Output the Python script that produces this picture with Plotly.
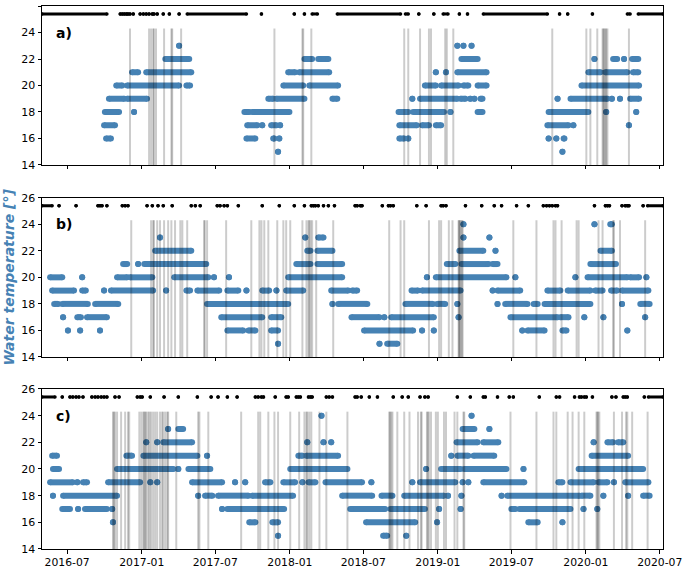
import plotly.graph_objects as go

# ---------------- axis / label values ----------------
Y_MIN, Y_MAX = 14, 26
Y_TICKS = [14, 16, 18, 20, 22, 24, 26]
X_RANGE = ["2016-04-30", "2020-07-09"]
X_TICKS = ["2016-07-01", "2017-01-01", "2017-07-01", "2018-01-01", "2018-07-01",
           "2019-01-01", "2019-07-01", "2020-01-01", "2020-07-01"]
X_TICK_TEXT = ["2016-07", "2017-01", "2017-07", "2018-01", "2018-07",
               "2019-01", "2019-07", "2020-01", "2020-07"]
PANEL_LABELS = ["a)", "b)", "c)"]
Y_TITLE = "Water temperature [°]"
RUG_LEVEL = 25.4
EVENT_TOP = 24.3

# ---------------- panel a ----------------
# (temperature, first day, last day) ; single day -> (temperature, day)
A_RUNS = [
    (15, "2017-12-03"), (15, "2019-11-04"),
    (16, "2016-10-05", "2016-10-17"), (16, "2017-09-16", "2017-10-08"), (16, "2017-11-21", "2017-11-24"),
    (16, "2017-12-06"), (16, "2018-09-28", "2018-10-10"), (16, "2018-10-20"), (16, "2019-10-01"),
    (16, "2019-10-20"), (16, "2019-11-07", "2019-11-09"),
    (17, "2016-09-30", "2016-10-27"), (17, "2017-09-18", "2017-10-13"), (17, "2017-10-25"),
    (17, "2017-11-16", "2017-11-29"), (17, "2017-12-08"), (17, "2018-09-28", "2018-11-10"),
    (17, "2018-11-23", "2018-12-10"), (17, "2018-12-27", "2019-01-09"), (17, "2019-09-28", "2019-11-19"),
    (17, "2019-12-01"), (17, "2020-04-16"),
    (18, "2016-10-02", "2016-11-06"), (18, "2016-12-13"), (18, "2017-09-11", "2017-09-23"),
    (18, "2017-09-30", "2017-12-31"), (18, "2018-09-26", "2018-10-20"), (18, "2018-11-01", "2019-01-16"),
    (18, "2019-02-01"), (18, "2019-04-09", "2019-04-21"), (18, "2019-10-01", "2020-01-07"),
    (18, "2020-02-20"), (18, "2020-05-04"),
    (19, "2016-10-12", "2016-11-19"), (19, "2016-11-26", "2017-01-14"), (19, "2017-11-09", "2017-11-21"),
    (19, "2017-11-29", "2018-02-06"), (19, "2018-04-16", "2018-04-28"), (19, "2018-10-30"),
    (19, "2018-11-18", "2019-02-18"), (19, "2019-02-26", "2019-03-10"), (19, "2019-03-22"),
    (19, "2019-04-01"), (19, "2019-04-16", "2019-04-21"), (19, "2019-10-23"),
    (19, "2019-11-24", "2020-02-23"), (19, "2020-03-05"), (19, "2020-03-25"), (19, "2020-04-19", "2020-05-11"),
    (20, "2016-10-30", "2016-11-14"), (20, "2016-11-26", "2017-04-03"), (20, "2017-04-21", "2017-04-30"),
    (20, "2017-12-16", "2018-02-03"), (20, "2018-02-18", "2018-04-30"), (20, "2018-11-30", "2018-12-27"),
    (20, "2019-01-09", "2019-02-21"), (20, "2019-03-05", "2019-03-17"), (20, "2019-04-09", "2019-05-01"),
    (20, "2019-12-21", "2020-05-11"),
    (21, "2016-12-08", "2016-12-23"), (21, "2017-01-12", "2017-05-03"), (21, "2017-12-28", "2018-01-14"),
    (21, "2018-01-24", "2018-04-08"), (21, "2018-12-27"), (21, "2019-01-21"), (21, "2019-02-18", "2019-05-01"),
    (21, "2020-01-07", "2020-02-06"), (21, "2020-02-18", "2020-04-12"), (21, "2020-04-26", "2020-05-09"),
    (22, "2017-02-28", "2017-04-28"), (22, "2018-02-06", "2018-02-25"), (22, "2018-03-12", "2018-04-06"),
    (22, "2019-02-28", "2019-04-09"), (22, "2020-01-22"), (22, "2020-03-08", "2020-03-18"),
    (22, "2020-04-04"), (22, "2020-04-24", "2020-05-09"),
    (23, "2017-04-03"), (23, "2019-02-18"), (23, "2019-03-05"), (23, "2019-03-25"),
]
A_EVENTS = ["2016-12-03", "2017-01-19", "2017-01-24", "2017-01-29", "2017-01-31", "2017-02-05",
            "2017-02-25", "2017-03-15", "2017-03-17", "2017-04-08", "2017-11-24", "2018-02-01",
            "2018-02-03", "2018-02-23", "2018-10-10", "2018-10-20", "2018-11-18", "2018-12-10",
            "2018-12-15", "2019-01-19", "2019-01-23", "2019-02-08", "2019-10-10", "2020-01-02",
            "2020-01-12", "2020-01-29", "2020-02-11", "2020-02-13", "2020-02-15", "2020-02-18",
            "2020-02-20", "2020-02-23", "2020-04-16"]
A_RUG = [("2016-04-30", "2016-10-07"), ("2016-11-09",), ("2016-11-14",), ("2016-11-19",), ("2016-11-24",),
         ("2016-11-28",), ("2016-12-03",), ("2016-12-11",), ("2016-12-28",), ("2017-01-05",),
         ("2017-01-12",), ("2017-01-19",), ("2017-01-27",), ("2017-01-31",), ("2017-02-08",),
         ("2017-02-23",), ("2017-03-10",), ("2017-04-03",), ("2017-04-23", "2017-09-16"),
         ("2017-10-23",), ("2018-01-12",), ("2018-02-06",), ("2018-02-25", "2018-03-10"),
         ("2018-04-28", "2018-10-01"), ("2018-10-13", "2018-10-20"), ("2018-11-15",), ("2018-12-22",),
         ("2019-01-14", "2019-01-26"), ("2019-02-23",), ("2019-03-15",), ("2019-04-23", "2019-09-28"),
         ("2019-10-28",), ("2019-11-17",), ("2020-01-17",), ("2020-04-12", "2020-04-19"),
         ("2020-05-09", "2020-07-09")]

# ---------------- panel b ----------------
B_RUNS = [
    (15, "2017-12-03"), (15, "2018-08-10"), (15, "2018-08-29", "2018-09-23"),
    (16, "2016-07-03"), (16, "2016-08-02"), (16, "2016-09-20"), (16, "2017-07-31", "2017-09-08"),
    (16, "2017-09-21", "2017-10-08"), (16, "2017-11-16", "2017-12-03"), (16, "2018-07-03", "2018-11-01"),
    (16, "2018-11-23"), (16, "2018-12-22"), (16, "2019-07-28"), (16, "2019-08-10", "2019-09-21"),
    (16, "2019-11-04", "2019-11-14"), (16, "2020-04-12"),
    (17, "2016-06-21"), (17, "2016-07-26", "2016-08-04"), (17, "2016-08-19", "2016-10-07"),
    (17, "2017-07-16", "2017-10-25"), (17, "2017-11-16", "2017-12-11"), (17, "2018-06-02", "2018-08-10"),
    (17, "2018-08-22"), (17, "2018-09-08", "2018-12-22"), (17, "2019-02-21"), (17, "2019-06-29", "2019-10-23"),
    (17, "2019-10-30", "2019-11-19"), (17, "2019-12-28"), (17, "2020-02-13"), (17, "2020-05-26"),
    (18, "2016-05-30", "2016-06-09"), (18, "2016-06-19", "2016-08-21"), (18, "2016-09-08", "2016-11-04"),
    (18, "2017-06-11", "2017-12-28"), (18, "2018-04-16"), (18, "2018-04-30", "2018-07-11"),
    (18, "2018-10-13", "2018-12-20"), (18, "2018-12-30", "2019-01-19"), (18, "2019-02-18"),
    (18, "2019-05-28"), (18, "2019-06-16", "2019-08-10"), (18, "2019-08-25", "2019-09-04"),
    (18, "2019-09-21", "2020-01-12"), (18, "2020-03-30"), (18, "2020-05-14", "2020-06-06"),
    (19, "2016-05-25", "2016-07-18"), (19, "2016-08-07", "2016-08-16"), (19, "2016-09-30"),
    (19, "2016-10-17", "2017-01-29"), (19, "2017-03-02"), (19, "2017-04-21", "2017-04-30"),
    (19, "2017-05-18", "2017-07-11"), (19, "2017-07-31", "2017-08-27"), (19, "2017-09-16"),
    (19, "2017-10-25", "2017-11-11"), (19, "2017-11-29"), (19, "2017-12-23", "2018-02-03"),
    (19, "2018-04-13", "2018-05-25"), (19, "2018-06-04", "2018-06-16"), (19, "2018-10-28", "2018-11-13"),
    (19, "2018-11-23", "2019-02-26"), (19, "2019-05-16"), (19, "2019-05-28", "2019-07-23"),
    (19, "2019-09-28", "2019-10-30"), (19, "2019-11-17", "2020-01-12"), (19, "2020-01-24", "2020-02-11"),
    (19, "2020-03-03", "2020-03-18"), (19, "2020-03-30", "2020-06-03"),
    (20, "2016-05-20", "2016-06-19"), (20, "2016-08-07"), (20, "2016-11-01", "2016-11-26"),
    (20, "2016-12-03", "2017-01-27"), (20, "2017-03-22", "2017-06-14"), (20, "2017-06-28"),
    (20, "2017-08-04"), (20, "2017-12-28", "2018-05-10"), (20, "2018-12-05"), (20, "2018-12-27", "2019-06-19"),
    (20, "2019-07-11"), (20, "2019-12-06"), (20, "2020-01-05", "2020-04-12"), (20, "2020-04-19", "2020-05-11"),
    (20, "2020-05-29"),
    (21, "2016-11-16", "2016-11-26"), (21, "2016-12-23"), (21, "2017-01-07", "2017-06-09"),
    (21, "2018-01-17", "2018-02-21"), (21, "2018-03-10", "2018-05-10"), (21, "2019-01-23", "2019-02-13"),
    (21, "2019-02-28", "2019-05-06"), (21, "2019-05-16", "2019-05-28"), (21, "2020-01-12", "2020-03-15"),
    (22, "2017-02-03", "2017-05-03"), (22, "2018-02-13", "2018-02-21"), (22, "2018-03-10", "2018-04-16"),
    (22, "2019-02-23", "2019-04-23"), (22, "2019-05-23"), (22, "2020-02-06", "2020-03-05"),
    (23, "2017-02-15"), (23, "2018-02-08"), (23, "2018-03-12", "2018-03-25"), (23, "2019-03-05"),
    (23, "2019-05-08"),
    (24, "2019-03-05"), (24, "2020-01-22"), (24, "2020-03-01", "2020-03-05"),
]
B_EVENTS = ["2016-12-06", "2017-01-24", "2017-01-29", "2017-01-31", "2017-02-08", "2017-02-15",
            "2017-02-25", "2017-03-07", "2017-03-15", "2017-03-24", "2017-04-06", "2017-04-11",
            "2017-04-23", "2017-06-04", "2017-06-05", "2017-06-11", "2017-07-28", "2017-09-28",
            "2017-10-18", "2017-10-23", "2017-10-30", "2017-11-09", "2017-12-01", "2017-12-16",
            "2017-12-23", "2018-01-02", "2018-02-01", "2018-02-11", "2018-02-16", "2018-02-18",
            "2018-02-21", "2018-02-25", "2018-03-07", "2018-04-18", "2018-09-03", "2018-10-01",
            "2018-10-10", "2018-12-10", "2019-01-04", "2019-01-09", "2019-01-28", "2019-02-06",
            "2019-02-21", "2019-02-22", "2019-02-24", "2019-02-26", "2019-03-01", "2019-03-03",
            "2019-07-06", "2019-09-01", "2019-10-13", "2019-10-18", "2019-11-02", "2019-12-09",
            "2019-12-14", "2020-02-01", "2020-02-11", "2020-03-08", "2020-03-10", "2020-03-25",
            "2020-05-26"]
B_RUG = [("2016-04-30", "2016-05-25"), ("2016-06-11",), ("2016-07-23",), ("2016-09-15",), ("2016-09-20",),
         ("2016-09-25",), ("2016-10-07",), ("2016-11-14",), ("2016-11-21",), ("2016-11-28",),
         ("2017-01-14",), ("2017-01-27",), ("2017-02-10",), ("2017-02-23",), ("2017-03-17",),
         ("2017-05-03",), ("2017-05-13",), ("2017-05-25",), ("2017-07-06",), ("2017-07-13",),
         ("2017-07-23",), ("2017-07-31",), ("2017-08-27",), ("2017-10-25",), ("2017-12-06",),
         ("2018-01-12",), ("2018-02-06",), ("2018-02-23",), ("2018-02-28",), ("2018-03-05",),
         ("2018-03-12",), ("2018-03-25",), ("2018-04-06",), ("2018-04-21",), ("2018-06-11",),
         ("2018-06-16",), ("2018-06-24",), ("2018-06-28",), ("2018-08-17",), ("2018-09-01",),
         ("2018-09-06",), ("2018-09-13",), ("2018-11-10",), ("2018-12-03",), ("2019-01-09",),
         ("2019-01-14",), ("2019-01-21",), ("2019-03-10",), ("2019-04-19",), ("2019-05-20",),
         ("2019-06-07",), ("2019-07-14",), ("2019-08-12",), ("2019-09-18",), ("2019-09-26",),
         ("2019-10-03",), ("2019-10-10",), ("2019-10-18",), ("2019-10-23",), ("2020-01-22",),
         ("2020-02-18",), ("2020-02-23",), ("2020-02-28",), ("2020-03-30",), ("2020-04-07",),
         ("2020-04-12",), ("2020-04-16",), ("2020-05-21",), ("2020-06-01", "2020-07-09")]

# ---------------- panel c ----------------
C_RUNS = [
    (15, "2017-12-03"), (15, "2018-08-19", "2018-08-29"), (15, "2018-10-15"),
    (16, "2016-10-22"), (16, "2017-09-23", "2017-10-08"), (16, "2017-11-19", "2017-12-03"),
    (16, "2018-07-08", "2018-11-06"), (16, "2018-12-30"), (16, "2019-08-12", "2019-09-04"), (16, "2019-11-04"),
    (17, "2016-06-19", "2016-07-08"), (17, "2016-07-28"), (17, "2016-08-14", "2016-10-07"), (17, "2016-10-20"),
    (17, "2017-07-18"), (17, "2017-07-31", "2017-12-18"), (17, "2018-05-30", "2018-08-24"),
    (17, "2018-09-06", "2018-11-30"), (17, "2019-01-04"), (17, "2019-02-26"), (17, "2019-07-01", "2019-07-11"),
    (17, "2019-07-21", "2019-11-24"), (17, "2019-12-26"), (17, "2020-01-29"),
    (18, "2016-05-27"), (18, "2016-06-21", "2016-11-01"), (18, "2017-05-20"), (18, "2017-06-06", "2017-06-24"),
    (18, "2017-07-08", "2017-09-21"), (18, "2017-09-30", "2018-01-09"), (18, "2018-05-10", "2018-07-23"),
    (18, "2018-08-15", "2018-09-11"), (18, "2018-10-10", "2019-01-16"), (18, "2019-01-26"), (18, "2019-02-28"),
    (18, "2019-06-07"), (18, "2019-06-21", "2019-12-16"), (18, "2019-12-21", "2020-01-12"), (18, "2020-02-13"),
    (18, "2020-04-14"), (18, "2020-05-21", "2020-06-06"),
    (19, "2016-05-20", "2016-07-15"), (19, "2016-07-26"), (19, "2016-08-09", "2016-08-19"),
    (19, "2016-10-10", "2016-12-28"), (19, "2017-01-22"), (19, "2017-02-08"), (19, "2017-05-05", "2017-07-18"),
    (19, "2017-08-19"), (19, "2017-09-13"), (19, "2017-11-01", "2017-11-14"), (19, "2017-12-16", "2018-01-14"),
    (19, "2018-02-01"), (19, "2018-02-16", "2018-03-05"), (19, "2018-03-30", "2018-06-28"), (19, "2018-07-21"),
    (19, "2018-10-30"), (19, "2018-11-18", "2019-02-13"), (19, "2019-03-03"), (19, "2019-03-17"),
    (19, "2019-04-23", "2019-08-02"), (19, "2019-10-25", "2019-11-04"), (19, "2019-11-24", "2020-01-20"),
    (19, "2020-02-01", "2020-02-23"), (19, "2020-03-10"), (19, "2020-04-07", "2020-06-03"),
    (20, "2016-05-27", "2016-06-11"), (20, "2016-11-01", "2017-03-20"), (20, "2017-04-01"),
    (20, "2017-04-26", "2017-06-19"), (20, "2018-01-02", "2018-05-23"), (20, "2018-12-03"),
    (20, "2019-01-09", "2019-02-26"), (20, "2019-03-07", "2019-06-19"), (20, "2019-07-31"),
    (20, "2019-12-14", "2020-05-21"),
    (21, "2016-05-25", "2016-06-06"), (21, "2016-11-24", "2016-12-08"), (21, "2017-01-05", "2017-05-18"),
    (21, "2017-06-11"), (21, "2018-01-22", "2018-02-01"), (21, "2018-02-11", "2018-04-30"), (21, "2019-02-03"),
    (21, "2019-02-18", "2019-03-17"), (21, "2019-03-30", "2019-05-20"), (21, "2020-01-15", "2020-04-14"),
    (22, "2017-01-12"), (22, "2017-02-08"), (22, "2017-02-23", "2017-05-05"), (22, "2018-02-13"),
    (22, "2018-03-25"), (22, "2018-04-13"), (22, "2019-02-16", "2019-04-09"), (22, "2019-04-23", "2019-05-30"),
    (22, "2020-01-20"), (22, "2020-02-23", "2020-03-08"), (22, "2020-03-20", "2020-04-02"),
    (23, "2017-03-07"), (23, "2017-04-01", "2017-04-13"), (23, "2019-03-03", "2019-04-01"), (23, "2019-05-08"),
    (24, "2018-03-20"), (24, "2019-03-25"),
]
C_EVENTS = ["2016-10-22", "2016-10-24", "2016-10-27", "2016-11-01", "2016-11-11", "2016-11-21",
            "2016-11-28", "2016-12-01", "2016-12-26", "2016-12-31", "2017-01-05", "2017-01-07",
            "2017-01-10", "2017-01-12", "2017-01-17", "2017-01-20", "2017-01-24", "2017-01-29",
            "2017-02-03", "2017-02-08", "2017-02-15", "2017-02-20", "2017-02-23", "2017-02-28",
            "2017-03-05", "2017-03-07", "2017-03-27", "2017-05-20", "2017-05-23", "2017-06-14",
            "2017-09-03", "2017-10-15", "2017-10-20", "2017-11-09", "2017-11-24", "2017-12-03",
            "2018-01-02", "2018-01-24", "2018-02-06", "2018-02-11", "2018-02-13", "2018-02-18",
            "2018-02-23", "2018-03-15", "2018-04-01", "2018-05-23", "2018-09-03", "2018-09-05",
            "2018-09-08", "2018-09-11", "2018-09-23", "2018-10-10", "2018-10-23", "2018-11-13",
            "2018-11-20", "2018-11-22", "2018-12-05", "2018-12-07", "2018-12-10", "2018-12-15",
            "2018-12-27", "2019-01-01", "2019-01-16", "2019-01-21", "2019-02-11", "2019-02-18",
            "2019-03-05", "2019-03-07", "2019-06-29", "2019-09-01", "2019-10-13", "2019-10-20",
            "2019-11-17", "2019-11-29", "2019-12-14", "2019-12-28", "2020-01-27", "2020-01-29",
            "2020-01-31", "2020-02-03", "2020-03-10", "2020-03-30", "2020-04-09", "2020-04-12",
            "2020-04-24", "2020-06-01"]
C_RUG = [("2016-04-30", "2016-06-01"), ("2016-06-19",), ("2016-07-08",), ("2016-07-15",), ("2016-07-23",),
         ("2016-07-30",), ("2016-08-09",), ("2016-08-31",), ("2016-09-08",), ("2016-09-15",),
         ("2016-09-23",), ("2016-09-30",), ("2016-10-07",), ("2016-10-27",), ("2016-11-06",),
         ("2016-12-21",), ("2016-12-28",), ("2017-01-02",), ("2017-01-22",), ("2017-02-25",),
         ("2017-04-01",), ("2017-05-18",), ("2017-06-21",), ("2017-07-08",), ("2017-07-31",),
         ("2017-08-24",), ("2017-10-08",), ("2017-10-15",), ("2017-10-23",), ("2017-10-28",),
         ("2017-11-26",), ("2017-12-23",), ("2017-12-28",), ("2018-01-17",), ("2018-01-22",),
         ("2018-01-27",), ("2018-02-16",), ("2018-02-21",), ("2018-02-25",), ("2018-04-01",),
         ("2018-04-08",), ("2018-04-16",), ("2018-06-11",), ("2018-06-16",), ("2018-06-26",),
         ("2018-07-16",), ("2018-08-05",), ("2018-09-13",), ("2018-10-05",), ("2018-10-20",),
         ("2018-11-18",), ("2018-11-30",), ("2018-12-08",), ("2019-02-18",), ("2019-03-22",),
         ("2019-04-23",), ("2019-04-28",), ("2019-05-28",), ("2019-06-26",), ("2019-07-06",),
         ("2019-09-08",), ("2019-10-20",), ("2019-10-28",), ("2019-12-04",), ("2019-12-16",),
         ("2019-12-21",), ("2019-12-28",), ("2020-01-02",), ("2020-01-17",), ("2020-03-05",),
         ("2020-03-15",), ("2020-04-02",), ("2020-04-07",), ("2020-04-12",), ("2020-05-24",),
         ("2020-06-03", "2020-07-09")]

PANELS = [(A_RUNS, A_EVENTS, A_RUG), (B_RUNS, B_EVENTS, B_RUG), (C_RUNS, C_EVENTS, C_RUG)]

# ---------------- style ----------------
BLUE = "#4682B4"
EVENT_COLOR = "rgba(0,0,0,0.2)"
FONT = "DejaVu Sans"
DOMAINS = [[0.7072, 1.0], [0.3536, 0.6470], [0.0, 0.2947]]

fig = go.Figure()
shapes = []
annotations = []

for i, (runs, events, rug) in enumerate(PANELS):
    sfx = "" if i == 0 else str(i + 1)
    xr, yr = "x" + sfx, "y" + sfx

    # temperature observations: each run is drawn from its first to its last day
    xs, ys = [], []
    for r in runs:
        t, start = r[0], r[1]
        end = r[2] if len(r) > 2 else r[1]
        xs += [start, end, None]
        ys += [t, t, None]
    fig.add_trace(go.Scatter(x=xs, y=ys, mode="lines+markers", xaxis=xr, yaxis=yr,
                             line=dict(color=BLUE, width=6),
                             marker=dict(color=BLUE, size=6),
                             showlegend=False, hoverinfo="skip"))

    # rug of black ticks at top
    rx, ry = [], []
    for r in rug:
        start = r[0]
        end = r[1] if len(r) > 1 else r[0]
        rx += [start, end, None]
        ry += [RUG_LEVEL, RUG_LEVEL, None]
    fig.add_trace(go.Scatter(x=rx, y=ry, mode="lines+markers", xaxis=xr, yaxis=yr,
                             line=dict(color="black", width=3),
                             marker=dict(color="black", size=3.5),
                             showlegend=False, hoverinfo="skip"))

    # vertical event lines
    for d in events:
        shapes.append(dict(type="line", xref=xr, yref=yr, x0=d, x1=d, y0=Y_MIN, y1=EVENT_TOP,
                           line=dict(color=EVENT_COLOR, width=2), layer="above"))

    annotations.append(dict(text="<b>" + PANEL_LABELS[i] + "</b>", xref=xr + " domain", yref=yr,
                            x=0.02, y=24, xanchor="left", yanchor="middle", showarrow=False,
                            font=dict(family=FONT, size=14, color="black")))

annotations.append(dict(text="<b><i>" + Y_TITLE + "</i></b>", xref="paper", yref="paper",
                        x=-0.053, y=0.5003, xanchor="center", yanchor="middle", textangle=-90,
                        showarrow=False, font=dict(family=FONT, size=14, color=BLUE)))

layout = dict(
    width=684, height=568,
    margin=dict(l=42, r=21, t=6, b=19, autoexpand=False),
    paper_bgcolor="white", plot_bgcolor="white",
    font=dict(family=FONT, size=11, color="black"),
    shapes=shapes, annotations=annotations, showlegend=False,
)
for i in range(3):
    sfx = "" if i == 0 else str(i + 1)
    layout["xaxis" + sfx] = dict(
        type="date", range=X_RANGE, anchor="y" + sfx, automargin=False,
        tickvals=X_TICKS, ticktext=X_TICK_TEXT, showticklabels=(i == 2),
        ticks="outside", ticklen=3.5, tickcolor="black", tickwidth=1,
        showline=True, linecolor="black", linewidth=1, mirror=True,
        showgrid=False, zeroline=False,
        tickfont=dict(family=FONT, size=10.8, color="black"),
        **({} if i == 0 else {"matches": "x"}),
    )
    layout["yaxis" + sfx] = dict(
        domain=DOMAINS[i], range=[Y_MIN, Y_MAX], anchor="x" + sfx, automargin=False,
        tickvals=Y_TICKS, ticks="outside", ticklen=3.5, tickcolor="black", tickwidth=1,
        showline=True, linecolor="black", linewidth=1, mirror=True,
        showgrid=False, zeroline=False,
        tickfont=dict(family=FONT, size=11, color="black"),
    )
fig.update_layout(**layout)
fig.write_html(
    "out.html",
    config={"displayModeBar": False},
    post_script="document.body.style.margin='0';document.body.style.overflow='hidden';",
)
